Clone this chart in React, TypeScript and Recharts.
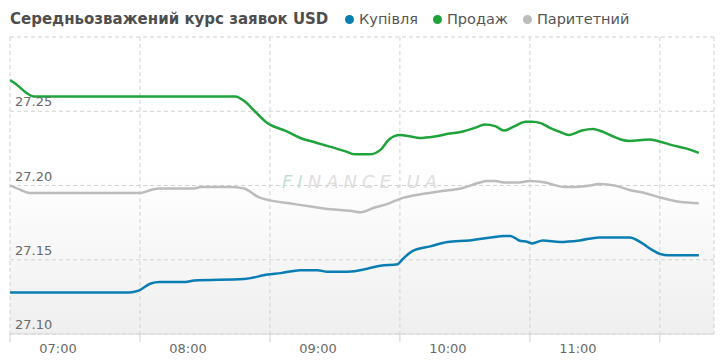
import { LineChart, Line, XAxis, YAxis, CartesianGrid } from 'recharts';

// Купівля
const BUY_TIMES = ['06:38', '07:33', '07:37', '07:43', '07:47', '07:59', '08:03', '08:26', '08:37', '08:43', '08:52', '09:00', '09:04', '09:14', '09:23', '09:29', '09:37', '09:39', '09:44', '09:52', '10:00', '10:10', '10:20', '10:26', '10:29', '10:33', '10:37', '10:39', '10:44', '10:52', '11:01', '11:10', '11:24', '11:30', '11:34', '11:38', '11:42', '11:56'];
const BUY_VALUES = [27.128, 27.128, 27.129, 27.134, 27.135, 27.135, 27.136, 27.137, 27.140, 27.141, 27.143, 27.143, 27.142, 27.142, 27.144, 27.146, 27.147, 27.150, 27.156, 27.159, 27.162, 27.163, 27.165, 27.166, 27.166, 27.163, 27.162, 27.161, 27.163, 27.162, 27.163, 27.165, 27.165, 27.161, 27.157, 27.154, 27.153, 27.153];

// Продаж
const SELL_TIMES = ['06:38', '06:41', '06:45', '06:49', '08:22', '08:26', '08:31', '08:36', '08:38', '08:45', '08:52', '08:59', '09:06', '09:13', '09:17', '09:24', '09:29', '09:33', '09:38', '09:43', '09:47', '09:54', '10:01', '10:06', '10:13', '10:17', '10:22', '10:26', '10:31', '10:36', '10:39', '10:43', '10:47', '10:52', '10:56', '11:02', '11:07', '11:10', '11:15', '11:20', '11:24', '11:33', '11:37', '11:44', '11:50', '11:56'];
const SELL_VALUES = [27.271, 27.268, 27.263, 27.260, 27.260, 27.257, 27.250, 27.243, 27.241, 27.237, 27.232, 27.229, 27.226, 27.223, 27.221, 27.221, 27.224, 27.231, 27.234, 27.233, 27.232, 27.233, 27.235, 27.236, 27.239, 27.241, 27.240, 27.237, 27.240, 27.243, 27.243, 27.242, 27.239, 27.236, 27.234, 27.237, 27.238, 27.237, 27.234, 27.231, 27.230, 27.231, 27.230, 27.227, 27.225, 27.222];

// Паритетний
const PARITY_TIMES = ['06:38', '06:43', '06:47', '07:38', '07:43', '07:47', '08:03', '08:06', '08:20', '08:26', '08:33', '08:38', '08:47', '08:56', '09:06', '09:15', '09:20', '09:26', '09:33', '09:38', '09:47', '09:56', '10:06', '10:15', '10:18', '10:22', '10:26', '10:33', '10:38', '10:45', '10:54', '10:59', '11:06', '11:10', '11:17', '11:24', '11:31', '11:38', '11:47', '11:56'];
const PARITY_VALUES = [27.200, 27.197, 27.195, 27.195, 27.197, 27.198, 27.198, 27.199, 27.199, 27.198, 27.192, 27.190, 27.188, 27.186, 27.184, 27.183, 27.182, 27.185, 27.188, 27.191, 27.194, 27.196, 27.198, 27.202, 27.203, 27.203, 27.202, 27.202, 27.203, 27.202, 27.199, 27.199, 27.200, 27.201, 27.200, 27.197, 27.195, 27.192, 27.189, 27.188];

const GRID_TIMES = ['06:38', '07:38', '08:38', '09:38', '10:38', '11:38'];
const HOUR_LABELS = ['07:00', '08:00', '09:00', '10:00', '11:00', ''];
const Y_TICKS = [27.1, 27.15, 27.2, 27.25, 27.3];

const TITLE = 'Середньозважений курс заявок USD';

const toMin = (s: string) => {
  const [h, m] = s.split(':').map(Number);
  return h * 60 + m;
};

const series = [
  { name: 'Купівля', color: '#0a7db3', times: BUY_TIMES, values: BUY_VALUES },
  { name: 'Продаж', color: '#1fa33b', times: SELL_TIMES, values: SELL_VALUES },
  { name: 'Паритетний', color: '#bcbcbc', times: PARITY_TIMES, values: PARITY_VALUES },
];

const FONT = '"DejaVu Sans", Verdana, sans-serif';
const LABEL_SHIFT = 48; // hour label sits to the right of its grid line

const XTick = (props: any) => {
  const { x, y, index } = props;
  const label = HOUR_LABELS[index];
  if (!label) return null;
  return (
    <text x={x + LABEL_SHIFT} y={y + 9} textAnchor="middle" fontSize={13} fill="#6a6a6a" fontFamily={FONT}>
      {label}
    </text>
  );
};

const YTick = (props: any) => {
  const { y, payload } = props;
  const v = Number(payload?.value);
  if (v >= 27.3) return null;
  return (
    <text x={15} y={y - 5} textAnchor="start" fontSize={13} fill="#6a6a6a" fontFamily={FONT}>
      {v.toFixed(2)}
    </text>
  );
};

export default function App() {
  const lines = series.map(s => ({
    ...s,
    data: s.times.map((t, i) => ({ t: toMin(t), v: s.values[i] })),
  }));

  return (
    <div style={{ position: 'absolute', left: 0, top: 0, width: 720, height: 364, background: '#fff', fontFamily: FONT }}>
      <div
        style={{
          position: 'absolute', left: 10, top: 37, width: 704, height: 297,
          background: 'linear-gradient(to bottom, #ffffff 0%, #ffffff 45%, #efefef 100%)',
        }}
      />
      {/* watermark */}
      <div
        style={{
          position: 'absolute', left: 282, top: 171, fontSize: 18, fontStyle: 'italic',
          letterSpacing: 5, color: '#dedede', fontFamily: FONT,
        }}
      >
        <span style={{ color: '#bfe2d7' }}>FI</span>NANCE.UA
      </div>

      <div style={{ position: 'absolute', left: 0, top: 0 }}>
        <LineChart width={720} height={364} data={[]} margin={{ top: 37, right: 6, bottom: 0, left: 9 }}>
          <CartesianGrid stroke="#d2d2d2" strokeDasharray="4 3" />
          <XAxis
            dataKey="t"
            type="number"
            domain={[toMin(GRID_TIMES[0]), toMin('12:03')]}
            ticks={GRID_TIMES.map(toMin)}
            interval={0}
            height={30}
            allowDataOverflow
            stroke="#d8d8d8"
            tickLine={{ stroke: '#d0d0d0' }}
            tickSize={8}
            tick={<XTick />}
          />
          <YAxis
            type="number"
            domain={[27.1, 27.3]}
            ticks={Y_TICKS}
            interval={0}
            width={1}
            axisLine={false}
            tickLine={false}
            tick={<YTick />}
          />
          {lines.map(s => (
            <Line
              key={s.name}
              data={s.data}
              dataKey="v"
              name={s.name}
              type="monotone"
              stroke={s.color}
              strokeWidth={2.5}
              dot={false}
              isAnimationActive={false}
            />
          ))}
        </LineChart>
      </div>

      <div
        style={{
          position: 'absolute', left: 10, top: 10, fontSize: 15, fontWeight: 'bold',
          color: '#4e4e4e', whiteSpace: 'nowrap',
        }}
      >
        {TITLE}
      </div>
      <div style={{ position: 'absolute', left: 345, top: 11, display: 'flex', fontSize: 14.5, color: '#555', whiteSpace: 'nowrap' }}>
        {series.map(s => (
          <div key={s.name} style={{ display: 'flex', alignItems: 'center', marginRight: 15 }}>
            <span style={{ width: 9, height: 9, borderRadius: '50%', background: s.color, marginRight: 5 }} />
            <span>{s.name}</span>
          </div>
        ))}
      </div>
    </div>
  );
}
